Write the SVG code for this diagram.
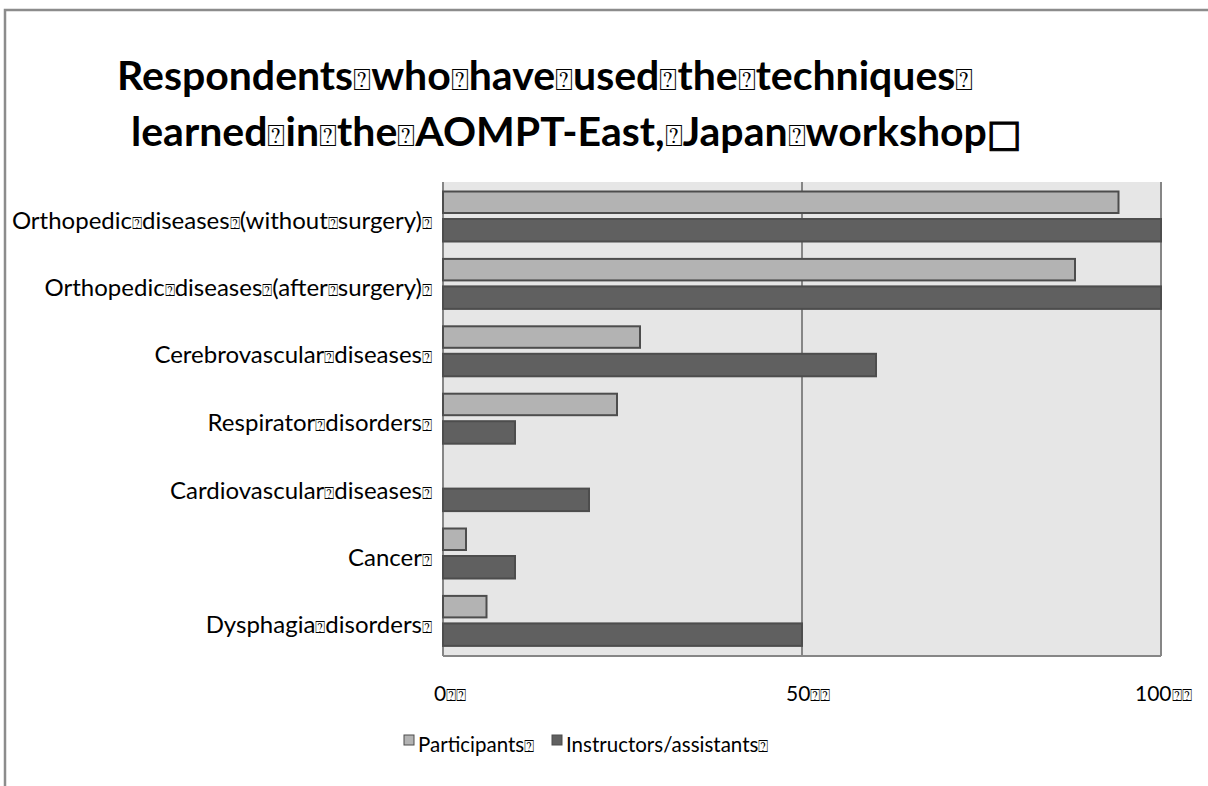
<svg xmlns="http://www.w3.org/2000/svg" width="1208" height="786" viewBox="0 0 1208 786">
<style>
text{font-family:Lato,"Carlito","Open Sans",sans-serif;fill:#000}
.title{font-size:41px;font-weight:bold}
.lab{font-size:24px;text-anchor:end}
.ax{font-size:21px}
.leg{font-size:20.5px}
.q{font-family:"DejaVu Sans",sans-serif;font-size:17px;font-weight:normal}
.qt{font-family:"DejaVu Sans",sans-serif;font-size:30px;font-weight:normal}
.sq{font-family:"DejaVu Sans",sans-serif;font-size:37px;font-weight:bold;stroke:#000;stroke-width:1.2}
.p{fill:#b3b3b3;stroke:#4d4d4d;stroke-width:2}
.i{fill:#606060;stroke:#4d4d4d;stroke-width:2}
.grid{stroke:#868686;stroke-width:2}
</style>
<rect x="5" y="10" width="1210" height="790" fill="#fff" stroke="#8c8c8c" stroke-width="2.5"/>
<g id="title">
<text class="title" x="117" y="90">Respondents<tspan class="qt">⍰</tspan>who<tspan class="qt">⍰</tspan>have<tspan class="qt">⍰</tspan>used<tspan class="qt">⍰</tspan>the<tspan class="qt">⍰</tspan>techniques<tspan class="qt">⍰</tspan></text>
<text class="title" x="131" y="146">learned<tspan class="qt">⍰</tspan>in<tspan class="qt">⍰</tspan>the<tspan class="qt">⍰</tspan>AOMPT-East,<tspan class="qt">⍰</tspan>Japan<tspan class="qt">⍰</tspan>workshop<tspan class="sq">□</tspan></text>
</g>
<g id="plot">
<rect x="443" y="182" width="718" height="474" fill="#e6e6e6"/>
<line class="grid" x1="802" y1="182" x2="802" y2="656"/>
<line class="grid" x1="1161" y1="182" x2="1161" y2="656"/>
<line class="grid" x1="443" y1="182" x2="443" y2="656"/>
<line class="grid" x1="443" y1="656" x2="1161" y2="656"/>
</g>
<g id="bars">
<rect class="p" x="443" y="191.5" width="675.5" height="21.5"/>
<rect class="i" x="443" y="219" width="718" height="22.5"/>
<rect class="p" x="443" y="258.9" width="632" height="21.5"/>
<rect class="i" x="443" y="286.4" width="718" height="22.5"/>
<rect class="p" x="443" y="326.3" width="197" height="21.5"/>
<rect class="i" x="443" y="353.8" width="433" height="22.5"/>
<rect class="p" x="443" y="393.7" width="174" height="21.5"/>
<rect class="i" x="443" y="421.2" width="72" height="22.5"/>
<rect class="i" x="443" y="488.6" width="146" height="22.5"/>
<rect class="p" x="443" y="528.5" width="23" height="21.5"/>
<rect class="i" x="443" y="556" width="72" height="22.5"/>
<rect class="p" x="443" y="595.9" width="43.5" height="21.5"/>
<rect class="i" x="443" y="623.4" width="359" height="22.5"/>
</g>
<g id="labels">
<text class="lab" x="432" y="229">Orthopedic<tspan class="q">⍰</tspan>diseases<tspan class="q">⍰</tspan>(without<tspan class="q">⍰</tspan>surgery)<tspan class="q">⍰</tspan></text>
<text class="lab" x="432" y="296">Orthopedic<tspan class="q">⍰</tspan>diseases<tspan class="q">⍰</tspan>(after<tspan class="q">⍰</tspan>surgery)<tspan class="q">⍰</tspan></text>
<text class="lab" x="432" y="363">Cerebrovascular<tspan class="q">⍰</tspan>diseases<tspan class="q">⍰</tspan></text>
<text class="lab" x="432" y="431">Respirator<tspan class="q">⍰</tspan>disorders<tspan class="q">⍰</tspan></text>
<text class="lab" x="432" y="499">Cardiovascular<tspan class="q">⍰</tspan>diseases<tspan class="q">⍰</tspan></text>
<text class="lab" x="432" y="566">Cancer<tspan class="q">⍰</tspan></text>
<text class="lab" x="432" y="633">Dysphagia<tspan class="q">⍰</tspan>disorders<tspan class="q">⍰</tspan></text>
</g>
<g id="axis">
<text class="ax" x="434" y="701">0<tspan class="q">⍰⍰</tspan></text>
<text class="ax" x="786" y="701">50<tspan class="q">⍰⍰</tspan></text>
<text class="ax" x="1135" y="701">100<tspan class="q">⍰⍰</tspan></text>
</g>
<g id="legend">
<rect x="404" y="735" width="10" height="10" fill="#b3b3b3" stroke="#4d4d4d" stroke-width="1"/>
<text class="leg" x="418" y="752">Participants<tspan class="q">⍰</tspan></text>
<rect x="552" y="735" width="10" height="10" fill="#606060" stroke="#4d4d4d" stroke-width="1"/>
<text class="leg" x="566" y="752">Instructors/assistants<tspan class="q">⍰</tspan></text>
</g>
</svg>
